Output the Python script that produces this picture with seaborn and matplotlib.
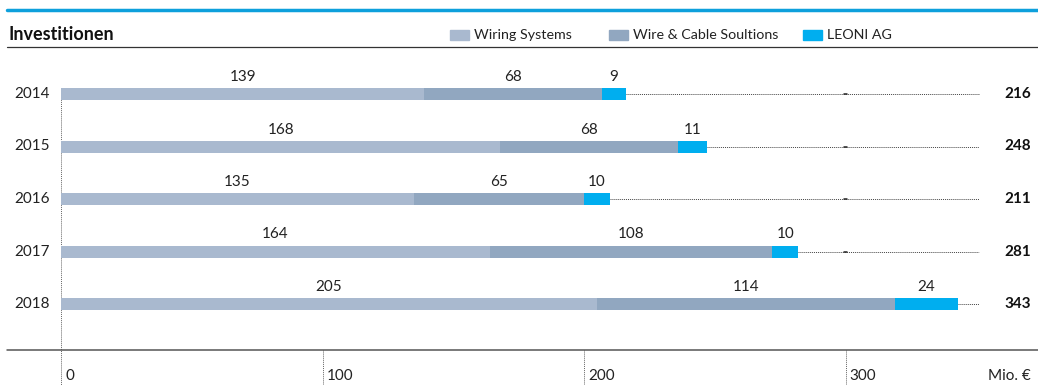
import pandas as pd
import seaborn as sns
import matplotlib.pyplot as plt
from matplotlib.patches import Rectangle

years = ['2014', '2015', '2016', '2017', '2018']
wiring = [139, 168, 135, 164, 205]
wire_cable = [68, 68, 65, 108, 114]
leoni = [9, 11, 10, 10, 24]
totals = [216, 248, 211, 281, 343]
ticks = [0, 100, 200, 300]

sns.set_style('white')
plt.rcParams['font.family'] = ['Lato', 'DejaVu Sans']

c_ws = '#a9b9cf'
c_wc = '#91a7c0'
c_le = '#00aeef'

df = pd.DataFrame({'year': years, 'ws': wiring, 'wc': wire_cable, 'le': leoni})
df['cum1'] = df['ws']
df['cum2'] = df['ws'] + df['wc']
df['cum3'] = df['cum2'] + df['le']

W, H = 1038, 385
fig = plt.figure(figsize=(W / 100, H / 100), dpi=100)
ax = fig.add_axes([0, 0, 1, 1])

# pixel mapping: x=0 at 61px, 2.615 px per unit; rows at 94px, 52.5px apart
ppu = 2.615
x0 = 61
ax.set_xlim(-x0 / ppu, (W - x0) / ppu)

# dotted guide lines from bar end to right edge
for i, t in enumerate(df['cum3']):
    ax.plot([t, 351], [i, i], ls=(0, (1, 1)), color='#444444', lw=0.7, zorder=1)
    ax.plot([299.6, 300.4], [i, i], color='#222222', lw=1.1, zorder=1)

bw = 12 / 52.5
for col, c, z in [('cum3', c_le, 2), ('cum2', c_wc, 3), ('cum1', c_ws, 4)]:
    sns.barplot(data=df, x=col, y='year', orient='h', color=c, width=bw,
                saturation=1, linewidth=0, ax=ax, zorder=z)

ax.set_ylim((H - 94) / 52.5, -94 / 52.5)
ax.set_axis_off()

fs = 11
# segment labels
for i in range(len(years)):
    starts = [0, df['cum1'][i], df['cum2'][i]]
    vals = [wiring[i], wire_cable[i], leoni[i]]
    for s, v in zip(starts, vals):
        ax.text(s + v / 2, i - 17 / 52.5, str(v), ha='center', va='center',
                fontsize=fs, color='#222222')
    ax.text((1031 - x0) / ppu, i, str(totals[i]), ha='right', va='center',
            fontsize=fs, fontweight='bold', color='#111111')
    ax.text(-11 / ppu, i, years[i], ha='right', va='center', fontsize=fs,
            color='#222222')

# vertical dotted line at zero and tick marks
ax.plot([0, 0], [-0.12, (H - 94) / 52.5], ls=(0, (1, 1)), color='#666666', lw=0.7, zorder=0)
yax = (350 - 94) / 52.5
for t in ticks:
    if t > 0:
        ax.plot([t, t], [yax, (H - 94) / 52.5], ls=(0, (1, 1)), color='#666666', lw=0.7)
    ax.text(t + 4 / ppu, (376 - 94) / 52.5, str(t), ha='left', va='center',
            fontsize=fs, color='#222222')
ax.text((1031 - x0) / ppu, (376 - 94) / 52.5, 'Mio. €', ha='right', va='center',
        fontsize=fs, color='#222222')

# figure decorations in pixel coordinates
def fx(px):
    return px / W

def fy(py):
    return 1 - py / H

fig.add_artist(plt.Line2D([fx(7), fx(W)], [fy(10), fy(10)], color='#0ea0dc', lw=2.5))
fig.add_artist(plt.Line2D([fx(7), fx(W)], [fy(47), fy(47)], color='#333333', lw=0.9))
fig.add_artist(plt.Line2D([fx(7), fx(W)], [fy(350), fy(350)], color='#555555', lw=1.1))
fig.text(fx(8), fy(35), 'Investitionen', ha='left', va='center', fontsize=13,
         fontweight='bold', color='#111111')

legend_items = [(450, 'Wiring Systems', c_ws), (609, 'Wire & Cable Soultions', c_wc),
                (803, 'LEONI AG', c_le)]
for px, label, col in legend_items:
    fig.add_artist(Rectangle((fx(px), fy(40)), 19 / W, 10 / H, color=col,
                             transform=fig.transFigure))
    fig.text(fx(px + 24), fy(35), label, ha='left', va='center', fontsize=10.3,
             color='#222222')

fig.savefig('out.png', dpi=100)
